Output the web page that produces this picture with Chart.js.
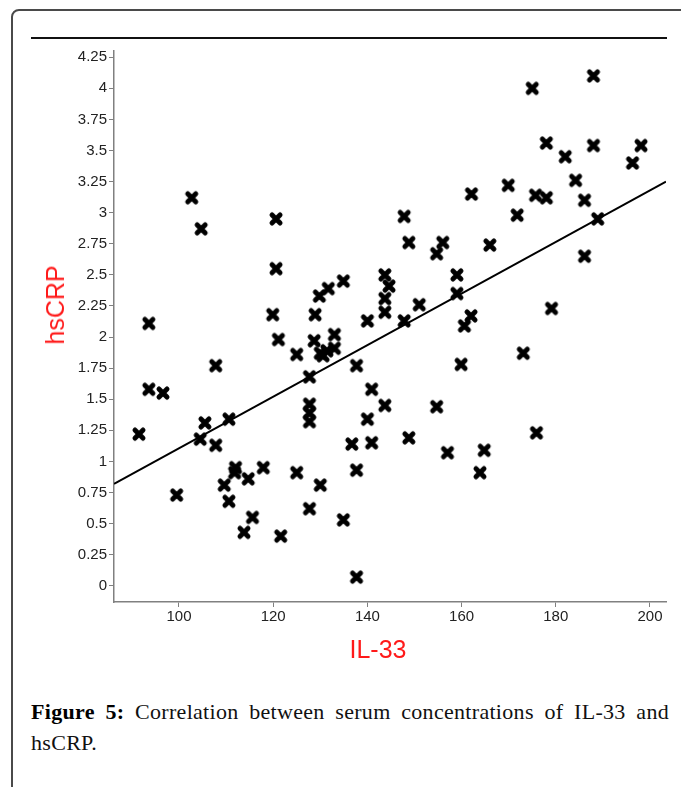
<!DOCTYPE html>
<html>
<head>
<meta charset="utf-8">
<script src="https://cdn.jsdelivr.net/npm/chart.js@4/dist/chart.umd.min.js"></script>
<style>
    html, body { margin: 0; padding: 0; background: #fff; overflow: hidden; }
    body { width: 681px; height: 787px; position: relative; }
    #frame { position: absolute; left: 11px; top: 9px; width: 720px; height: 820px;
             border: 2px solid #4a4a4a; border-radius: 8px; box-sizing: border-box; }
    #rule { position: absolute; left: 31px; top: 37px; width: 636px; height: 2px; background: #111; }
    #chartBox { position: absolute; left: 0; top: 40px; width: 681px; height: 640px; }
    .axisTitle { position: absolute; color: #ff1a1a; font-family: "Liberation Sans", Arial, sans-serif;
                 font-size: 25px; line-height: 30px; white-space: nowrap; }
    #yTitle { left: 55px; top: 305px; transform: translate(-50%, -50%) rotate(-90deg); }
    #xTitle { left: 378px; top: 649px; transform: translate(-50%, -50%); }
    #caption { position: absolute; left: 31px; top: 696px; width: 638px;
               font-family: "Liberation Serif", "Times New Roman", serif; font-size: 22px;
               letter-spacing: 0.3px; line-height: 31px; color: #111; }
    #caption .l1 { text-align: justify; text-align-last: justify; white-space: nowrap; }
    #caption b { color: #000; }
</style>
</head>
<body>
<div id="frame"></div>
<div id="rule"></div>
<div id="chartBox"><canvas id="myChart"></canvas></div>
<div class="axisTitle" id="yTitle">hsCRP</div>
<div class="axisTitle" id="xTitle">IL-33</div>
<div id="caption">
    <div class="l1"><b>Figure 5:</b> Correlation between serum concentrations of IL-33 and</div>
    <div>hsCRP.</div>
</div>
<script>
    // IL-33 (x) and hsCRP (y)
    const il33 = [
        91.5, 93.6, 93.6, 96.6, 99.5, 102.7, 104.7, 104.5, 105.5, 107.8,
        107.8, 110.6, 109.6, 110.6, 112.0, 111.8, 114.7, 113.8, 115.6, 117.9,
        120.6, 120.6, 119.9, 121.1, 121.6, 125.0, 125.0, 128.9, 127.7, 127.7,
        127.7, 127.7, 127.7, 130.0, 129.8, 131.7, 128.7, 130.0, 130.6, 131.4,
        133.0, 133.0, 134.9, 134.9, 137.7, 136.7, 137.7, 137.7, 140.0, 140.9,
        140.0, 140.9, 143.7, 143.7, 144.6, 143.7, 143.7, 147.8, 151.0, 148.8,
        154.7, 154.7, 157.0, 159.0, 159.0, 162.0, 160.6, 159.9, 164.8, 163.9,
        147.8, 148.8, 156.0, 162.1, 166.0, 169.9, 171.8, 175.0, 175.7, 178.0,
        178.0, 182.0, 184.2, 186.1, 188.0, 188.0, 188.9, 186.1, 196.3, 198.1,
        179.1, 173.1, 175.9
    ];
    const hsCRP = [
        1.22, 2.11, 1.58, 1.55, 0.73, 3.12, 2.87, 1.18, 1.31, 1.77,
        1.13, 1.34, 0.81, 0.68, 0.95, 0.91, 0.86, 0.43, 0.55, 0.95,
        2.95, 2.55, 2.18, 1.98, 0.40, 1.86, 0.91, 2.18, 1.68, 1.46,
        1.39, 1.32, 0.62, 0.81, 2.33, 2.39, 1.97, 1.87, 1.85, 1.89,
        2.02, 1.91, 0.53, 2.45, 1.77, 1.14, 0.93, 0.07, 2.13, 1.58,
        1.34, 1.15, 1.45, 2.50, 2.41, 2.31, 2.20, 2.13, 2.26, 1.19,
        2.67, 1.44, 1.07, 2.50, 2.35, 2.17, 2.09, 1.78, 1.09, 0.91,
        2.97, 2.76, 2.76, 3.15, 2.74, 3.22, 2.98, 4.00, 3.14, 3.12,
        3.56, 3.45, 3.26, 3.10, 4.10, 3.54, 2.95, 2.65, 3.40, 3.54,
        2.23, 1.87, 1.23
    ];

    // regression line end points, as drawn
    const fitX = [86.2, 203.4];
    const fitY = [0.82, 3.25];

    const xTicks = [100, 120, 140, 160, 180, 200];
    const yTicks = [0, 0.25, 0.5, 0.75, 1, 1.25, 1.5, 1.75, 2, 2.25, 2.5, 2.75, 3, 3.25, 3.5, 3.75, 4, 4.25];

    function makeMarker(){
        let c = document.createElement('canvas');
        c.width = 16;
        c.height = 16;
        let g = c.getContext('2d');
        g.strokeStyle = '#000';
        g.lineWidth = 5;
        g.lineCap = 'round';
        g.beginPath();
        g.moveTo(4, 4);
        g.lineTo(12, 12);
        g.moveTo(12, 4);
        g.lineTo(4, 12);
        g.stroke();
        return c;
    }

    let tickFont = {family: '"Liberation Sans", Arial, sans-serif', size: 15};

    new Chart(document.getElementById('myChart'), {
        type: 'scatter',
        data: {
            datasets: [{
                data: il33.map((x, i) => ({x: x, y: hsCRP[i]})),
                pointStyle: makeMarker(),
                pointRadius: 7,
                order: 0
            }, {
                type: 'line',
                data: fitX.map((x, i) => ({x: x, y: fitY[i]})),
                borderColor: '#000',
                borderWidth: 2,
                pointRadius: 0,
                fill: false,
                order: 1
            }]
        },
        options: {
            responsive: true,
            maintainAspectRatio: false,
            animation: false,
            events: [],
            layout: {padding: {top: 7, right: 15, left: 0, bottom: 0}},
            plugins: {legend: {display: false}, tooltip: {enabled: false}},
            scales: {
                x: {
                    type: 'linear',
                    min: 86.2,
                    max: 203.4,
                    afterFit: function(s){ s.height = 78; },
                    afterBuildTicks: function(s){ s.ticks = xTicks.map(v => ({value: v})); },
                    border: {color: '#808080', width: 1.5},
                    grid: {drawOnChartArea: false, tickLength: 5, tickColor: '#808080', tickWidth: 1},
                    ticks: {font: tickFont, color: '#222', padding: 1, maxRotation: 0,
                            callback: v => String(v)}
                },
                y: {
                    type: 'linear',
                    min: -0.13,
                    max: 4.30,
                    afterFit: function(s){ s.width = 114; },
                    afterBuildTicks: function(s){ s.ticks = yTicks.map(v => ({value: v})); },
                    border: {color: '#808080', width: 1.5},
                    grid: {drawOnChartArea: false, tickLength: 5, tickColor: '#808080', tickWidth: 1},
                    ticks: {font: tickFont, color: '#222', padding: 2,
                            callback: v => String(v)}
                }
            }
        }
    });
</script>
</body>
</html>
